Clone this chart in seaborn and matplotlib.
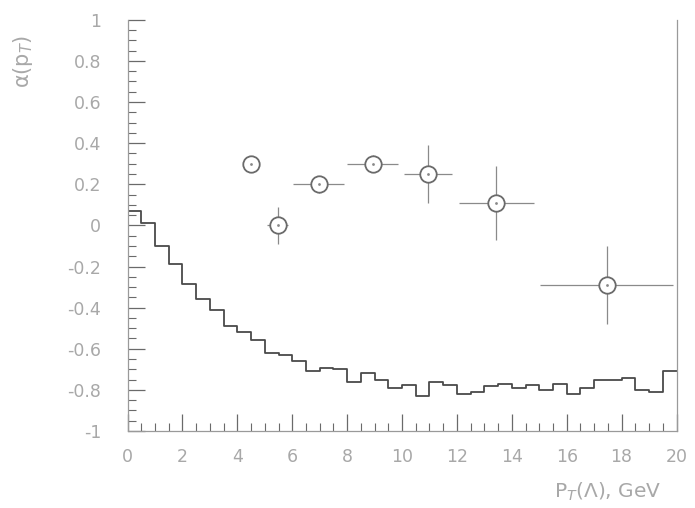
import numpy as np
import pandas as pd
import matplotlib
matplotlib.use("Agg")
import matplotlib.pyplot as plt
import seaborn as sns
from matplotlib.ticker import MultipleLocator, FuncFormatter

# ---- data ----
# histogram (0.5 GeV bins from 0 to 20)
hist_edges = np.arange(0, 20.5, 0.5)
hist_values = [0.07, 0.01, -0.10, -0.19, -0.285, -0.36, -0.41, -0.49, -0.52, -0.555,
               -0.62, -0.63, -0.66, -0.71, -0.695, -0.70, -0.76, -0.72, -0.75, -0.79,
               -0.775, -0.83, -0.76, -0.775, -0.82, -0.81, -0.78, -0.77, -0.79, -0.775,
               -0.80, -0.77, -0.82, -0.79, -0.75, -0.75, -0.74, -0.80, -0.81, -0.71]
# measured points
pt_x = [4.49, 5.47, 6.97, 8.94, 10.95, 13.43, 17.45]
alpha_y = [0.30, 0.00, 0.20, 0.30, 0.25, 0.11, -0.29]
x_err = [0.3, 0.38, 0.93, 0.93, 0.88, 1.37, 2.43]
y_err = [0.02, 0.09, 0.04, 0.04, 0.14, 0.18, 0.19]

x_ticks = [0, 2, 4, 6, 8, 10, 12, 14, 16, 18, 20]
y_ticks = [-1, -0.8, -0.6, -0.4, -0.2, 0, 0.2, 0.4, 0.6, 0.8, 1]

sns.set_style("white", {"xtick.direction": "in", "ytick.direction": "in",
                        "xtick.bottom": True, "ytick.left": True})
plt.rcParams['font.family'] = ['DejaVu Sans']
plt.rcParams['axes.unicode_minus'] = False

fig = plt.figure(figsize=(6.95, 5.08), dpi=100)
ax = fig.add_axes([0.1835, 0.1516, 0.7899, 0.8094])

line_col = "#4a4a4a"
frame_col = "#9a9a9a"
text_col = "#a8a8a8"

step_df = pd.DataFrame({"x": hist_edges,
                        "y": list(hist_values) + [hist_values[-1]]})
sns.lineplot(data=step_df, x="x", y="y", drawstyle="steps-post",
             estimator=None, color=line_col, lw=1.3, ax=ax)

pts = pd.DataFrame({"pt": pt_x, "alpha": alpha_y})
ax.errorbar(pt_x, alpha_y, xerr=x_err, yerr=y_err, fmt="none",
            ecolor="#8a8a8a", elinewidth=0.9, capsize=0)
sns.scatterplot(data=pts, x="pt", y="alpha", marker="o", s=140,
                facecolor="white", edgecolor="#6a6a6a", linewidth=1.3,
                zorder=5, ax=ax)
sns.scatterplot(data=pts, x="pt", y="alpha", marker="o", s=4,
                color="#888888", linewidth=0, zorder=6, ax=ax)

ax.set_xlim(0, 20)
ax.set_ylim(-1, 1)
ax.set_xticks(x_ticks)
ax.set_yticks(y_ticks)
ax.xaxis.set_minor_locator(MultipleLocator(0.5))
ax.yaxis.set_minor_locator(MultipleLocator(0.05))

def fmt(v, pos):
    if abs(v) < 1e-9:
        return "0"
    s = f"{v:.1f}"
    if s.endswith(".0"):
        s = s[:-2]
    return s

ax.yaxis.set_major_formatter(FuncFormatter(fmt))
ax.xaxis.set_major_formatter(FuncFormatter(fmt))

ax.tick_params(axis="x", which="major", direction="in", bottom=True, top=False,
               length=12, width=0.9, color="#6a6a6a", labelsize=12.5,
               labelcolor=text_col, pad=12)
ax.tick_params(axis="y", which="major", direction="in", left=True, right=False,
               length=12, width=0.9, color="#6a6a6a", labelsize=12.5,
               labelcolor=text_col, pad=19)
ax.tick_params(axis="x", which="minor", direction="in", bottom=True, top=False,
               length=6, width=0.8, color="#6a6a6a")
ax.tick_params(axis="y", which="minor", direction="in", left=True, right=False,
               length=6, width=0.8, color="#6a6a6a")

for side in ["left", "bottom", "right"]:
    ax.spines[side].set_color(frame_col)
    ax.spines[side].set_linewidth(0.9)
ax.spines["top"].set_visible(False)

ax.set_xlabel("")
ax.set_ylabel("")
fig.text(0.875, 0.032, "P$_T$(Λ), GeV", color=text_col, fontsize=14.5,
         ha="center", va="center")
fig.text(0.033, 0.88, "α(p$_T$)", color=text_col, fontsize=15,
         rotation=90, ha="center", va="center")

fig.savefig("out.png", dpi=100, facecolor="white")
